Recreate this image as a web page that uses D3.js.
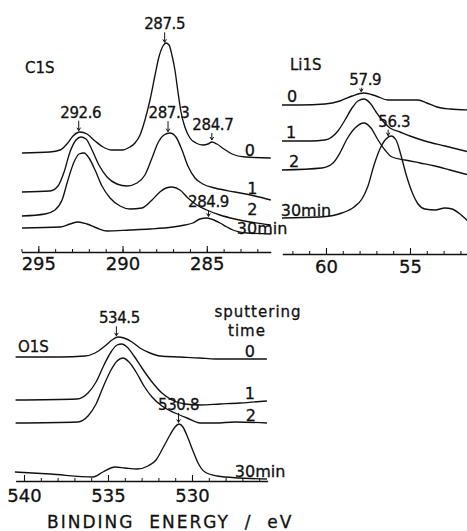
<!DOCTYPE html>
<html><head><meta charset="utf-8">
<script src="https://cdn.jsdelivr.net/npm/d3@7"></script>
<style>
body{margin:0;background:#fff;}
svg{display:block;}
text{font-family:"DejaVu Sans",sans-serif;fill:#111;stroke:#111;stroke-width:0.3px;}
</style></head><body>
<svg id="chart" width="467" height="531"></svg>
<script>
// ---------- data ----------
const seriesNames = ["0", "1", "2", "30min"];

// C1S spectra: [binding energy eV, intensity a.u.]
const c1sTicks = [295, 290, 285];
const c1s0 = [[295.97,99],[294.31,100],[293.71,102],[293.30,108],[292.94,116],[292.53,120],[292.11,118],[291.63,111],[291.16,105],[290.63,102],[290.03,102],[289.56,105],[289.26,109],[288.96,117],[288.67,132],[288.37,152],[288.07,177],[287.84,195],[287.60,206],[287.42,209],[287.24,207],[287.07,197],[286.89,182],[286.71,160],[286.53,140],[286.30,125],[286.00,114],[285.64,109],[285.23,107],[284.93,108],[284.70,110],[284.40,108],[283.98,103],[283.50,98],[282.73,95],[281.20,94]];
const c1s1 = [[295.97,60],[294.31,61],[293.83,66],[293.47,80],[293.12,100],[292.76,112],[292.47,115],[292.17,113],[291.81,102],[291.40,87],[290.92,75],[290.33,68],[289.74,66],[289.14,69],[288.67,77],[288.25,94],[287.90,109],[287.54,117],[287.18,119],[286.83,115],[286.47,102],[286.12,86],[285.70,74],[285.23,68],[284.52,64],[283.33,60],[282.14,56],[281.20,52]];
const c1s2 = [[295.97,36],[294.60,38],[294.01,42],[293.59,52],[293.24,72],[292.88,90],[292.58,98],[292.29,99],[291.99,94],[291.63,82],[291.22,66],[290.74,54],[290.15,46],[289.56,43],[288.85,44],[288.25,52],[287.78,60],[287.42,64],[287.07,65],[286.59,62],[286.12,54],[285.59,47],[285.00,42],[284.22,37],[283.33,33],[282.44,30],[281.20,27]];
const c1s30 = [[295.97,24],[293.71,25],[293.12,28],[292.64,30],[292.11,28],[291.52,24],[290.92,21],[289.56,22],[288.37,23],[287.01,25],[286.30,27],[285.82,29],[285.41,33],[285.00,34],[284.58,32],[284.22,29],[283.80,25],[283.45,22],[282.61,19],[281.20,18]];
const c1sPeakLabels = ["287.5", "292.6", "287.3", "284.7", "284.9"];
const c1sPeakSeries = [0, 0, 1, 0, 3];

// Li1S spectra
const li1sTicks = [60, 55];
const li0 = [[62.62,149],[61.55,149],[60.06,150],[59.17,153],[58.45,158],[57.74,161],[57.02,158],[56.31,154],[55.30,154],[54.52,154],[53.99,151],[53.39,147],[52.62,145],[51.50,144]];
const li1 = [[62.62,113],[60.95,113],[60.06,114],[59.29,123],[58.87,134],[58.45,146],[58.10,153],[57.74,155],[57.38,151],[57.02,142],[56.67,134],[56.19,126],[55.60,122],[55.00,118],[54.11,113],[52.92,108],[51.50,102]];
const li2 = [[62.62,84],[60.24,86],[59.58,91],[59.17,101],[58.75,115],[58.27,126],[57.74,131],[57.32,126],[56.90,114],[56.49,104],[56.07,97],[55.30,94],[54.40,91],[53.51,88],[52.62,84],[51.50,79]];
const li30 = [[62.62,36],[60.36,37],[59.05,41],[58.33,47],[57.86,55],[57.50,68],[57.14,89],[56.79,105],[56.43,115],[56.13,118],[55.83,114],[55.54,99],[55.24,80],[54.88,62],[54.52,50],[54.11,45],[53.51,44],[52.92,46],[52.50,45],[52.02,40],[51.50,32]];
const li1sPeakLabels = ["57.9", "56.3"];
const li1sPeakSeries = [0, 3];

// O1S spectra
const o1sTicks = [540, 535, 530];
const o0 = [[540.50,124],[537.86,124],[536.37,125],[535.77,128],[535.18,135],[534.76,141],[534.40,144],[534.05,143],[533.57,139],[533.10,133],[532.50,128],[531.90,125],[530.71,124],[529.52,123],[528.63,122],[525.54,122]];
const o1 = [[540.50,81],[536.85,82],[536.19,88],[535.71,99],[535.24,116],[534.82,129],[534.46,136],[534.17,137],[533.87,134],[533.45,125],[532.98,113],[532.38,99],[531.79,88],[531.19,81],[530.42,77],[529.52,76],[528.33,77],[527.14,78],[525.54,80]];
const o2 = [[540.50,58],[536.79,59],[536.19,65],[535.71,77],[535.24,96],[534.82,111],[534.46,120],[534.11,123],[533.75,119],[533.33,109],[532.86,95],[532.38,84],[531.79,75],[531.01,68],[530.30,63],[529.52,58],[528.63,58],[527.44,59],[525.54,58]];
const o30 = [[540.54,9],[538.45,7],[535.89,4],[535.30,9],[534.58,14],[533.99,13],[533.27,12],[532.62,15],[532.14,21],[531.73,33],[531.31,46],[531.01,54],[530.77,57],[530.54,54],[530.24,43],[529.94,30],[529.64,18],[529.23,9],[528.51,5],[527.14,3],[525.54,2]];
const o1sPeakLabels = ["534.5", "530.8"];
const o1sPeakSeries = [0, 3];

const xAxisTitle = "BINDING  ENERGY  /  eV";
const legendTitle = ["sputtering", "time"];

// ---------- drawing ----------
const svg = d3.select("#chart");
const INK = "#111";

function valueAt(data, e) {
  for (let i = 0; i < data.length - 1; i++) {
    const [e0, v0] = data[i], [e1, v1] = data[i + 1];
    if (e <= e0 && e >= e1) return v0 + (v1 - v0) * (e - e0) / (e1 - e0);
  }
  return data[data.length - 1][1];
}

function arrow(g, x, y1, y2) {
  g.append("path")
    .attr("d", `M${x},${y1}V${y2}M${x-1.8},${y2-3}L${x},${y2}L${x+1.8},${y2-3}`)
    .attr("fill", "none").attr("stroke", INK).attr("stroke-width", 1);
}

function panel(cfg) {
  const x = d3.scaleLinear().domain(cfg.domain).range(cfg.range);
  const y = d3.scaleLinear().domain([0, 100]).range([cfg.axisY, cfg.axisY - 100]);
  const g = svg.append("g");
  const line = d3.line().x(d => x(d[0])).y(d => y(d[1])).curve(d3.curveMonotoneX);

  cfg.series.forEach(s => {
    g.append("path").attr("d", line(s))
      .attr("fill", "none").attr("stroke", INK).attr("stroke-width", 1.35)
      .attr("stroke-linejoin", "round");
  });

  // axis: minor ticks every 1 eV, major every 5 eV
  const lo = Math.ceil(Math.min(...cfg.domain)), hi = Math.floor(Math.max(...cfg.domain));
  const minor = d3.range(lo, hi + 1);
  const ax = g.append("g").attr("transform", `translate(0,${cfg.axisY})`)
    .call(d3.axisBottom(x).tickValues(minor).tickSize(-3).tickSizeOuter(0).tickFormat(""));
  ax.attr("color", INK);
  ax.select(".domain").attr("stroke-width", 1.3);
  ax.selectAll(".tick line").attr("stroke-width", 1);
  const axM = g.append("g").attr("transform", `translate(0,${cfg.axisY})`)
    .call(d3.axisBottom(x).tickValues(cfg.ticks).tickSize(-6).tickSizeOuter(0).tickPadding(cfg.pad).tickFormat(d3.format("d")));
  axM.attr("color", INK).attr("font-family", null).attr("font-size", null);
  axM.select(".domain").remove();
  axM.selectAll(".tick line").attr("stroke-width", 1.1);
  axM.selectAll(".tick text").style("font-size", "18px").attr("fill", INK);

  // panel title
  g.append("text").attr("x", cfg.title[1]).attr("y", cfg.title[2])
    .style("font-size", "15px").text(cfg.title[0]);

  // peak annotations
  cfg.peaks.forEach((lab, i) => {
    const e = +lab;
    const s = cfg.series[cfg.peakSeries[i]];
    const cx = x(e), cy = y(valueAt(s, e));
    const base = cy - cfg.peakGap[i];
    g.append("text").attr("x", cx + (cfg.peakDx ? cfg.peakDx[i] : 0)).attr("y", base)
      .attr("text-anchor", "middle").style("font-size", "15px")
      .style("letter-spacing", "-0.4px").text(lab);
    arrow(g, cx, base + 3, cy - 2);
  });

  // series labels
  seriesNames.forEach((n, i) => {
    const e = cfg.labelE[i];
    const cy = y(valueAt(cfg.series[i], e));
    g.append("text").attr("x", x(e)).attr("y", cy - cfg.labelGap[i])
      .attr("text-anchor", "middle").style("font-size", "16px").text(n);
  });
  return {x, y, g};
}

panel({
  domain: [296.0, 281.2], range: [21.45, 270.8], axisY: 252, pad: 5,
  series: [c1s0, c1s1, c1s2, c1s30], ticks: c1sTicks,
  title: ["C1S", 25, 73],
  peaks: c1sPeakLabels, peakSeries: c1sPeakSeries, peakGap: [15, 15, 15.5, 12, 11],
  peakDx: [0, 2, 1, 1, 0],
  labelE: [282.44, 282.3, 282.3, 281.72], labelGap: [1.5, 1, 7.5, 0]
});

panel({
  domain: [62.6, 51.5], range: [282.3, 468.8], axisY: 254, pad: 6,
  series: [li0, li1, li2, li30], ticks: li1sTicks,
  title: ["Li1S", 290, 70],
  peaks: li1sPeakLabels, peakSeries: li1sPeakSeries, peakGap: [9, 11],
  peakDx: [4, 6],
  labelE: [62.02, 62.08, 61.9, 61.19], labelGap: [3, 3, 2, 1.5]
});

panel({
  domain: [540.5, 525.5], range: [15.6, 267.6], axisY: 481, pad: 8,
  series: [o0, o1, o2, o30], ticks: o1sTicks,
  title: ["O1S", 18, 352],
  peaks: o1sPeakLabels, peakSeries: o1sPeakSeries, peakGap: [14.5, 14.5],
  peakDx: [3, 0],
  labelE: [526.55, 526.55, 526.5, 525.95], labelGap: [2, 3.5, 1, 1.5]
});

// legend title (sputtering time)
svg.append("text").attr("x", 258).attr("y", 317).attr("text-anchor", "middle")
  .style("font-size", "15px").style("letter-spacing", "1px").text(legendTitle[0]);
svg.append("text").attr("x", 247).attr("y", 336).attr("text-anchor", "middle")
  .style("font-size", "15px").style("letter-spacing", "1px").text(legendTitle[1]);

// x-axis title
svg.append("text").attr("x", 47).attr("y", 528)
  .style("font-size", "17px").style("letter-spacing", "2px").style("white-space", "pre")
  .attr("xml:space", "preserve").text(xAxisTitle);
</script>
</body></html>
